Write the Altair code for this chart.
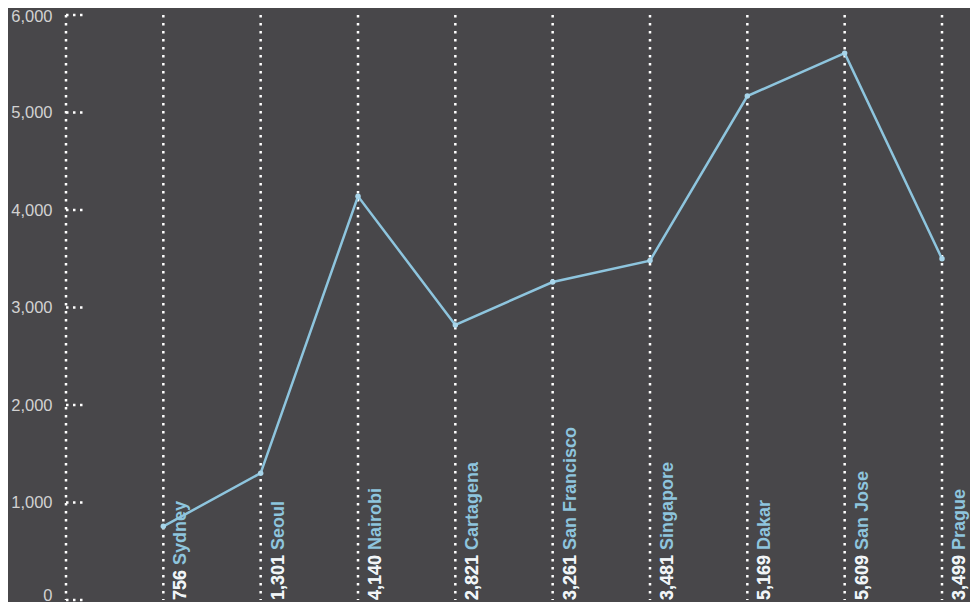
import altair as alt
import pandas as pd

cities = ["Sydney", "Seoul", "Nairobi", "Cartagena", "San Francisco",
          "Singapore", "Dakar", "San Jose", "Prague"]
values = [756, 1301, 4140, 2821, 3261, 3481, 5169, 5609, 3499]
y_ticks = [0, 1000, 2000, 3000, 4000, 5000, 6000]

BG = "#48474a"
BLUE = "#8ec5de"
FONT = "Liberation Sans"

df = pd.DataFrame({
    "idx": list(range(1, len(cities) + 1)),
    "city": cities,
    "value": values,
})
df["num"] = df["value"].map(lambda v: f"{v:,}")
df["full"] = df["num"] + " " + df["city"]
df["base"] = 0

rules_df = pd.DataFrame({"idx": list(range(0, len(cities) + 1))})
rules_df["top"] = 6000
rules_df["bot"] = 0
ticks_df = pd.DataFrame({"t": y_ticks})

xs = alt.Scale(domain=[0, len(cities)], nice=False, zero=False)
ys = alt.Scale(domain=[0, 6000], nice=False)

yaxis = alt.Axis(values=y_ticks, format=",.0f", labelFontSize=16.5, labelColor="#d2d2d2",
                 labelFont=FONT, domain=False, ticks=False, grid=False,
                 labelPadding=14, title=None,
                 labelOffset={"condition": [{"test": "datum.value == 0", "value": -5},
                                            {"test": "datum.value == 6000", "value": 1}],
                              "value": 0})

hticks = alt.Chart(ticks_df).mark_rule(
    color="white", strokeWidth=2.5, strokeDash=[2.5, 4.5]
).encode(
    x=alt.value(0),
    x2=alt.value(17),
    y=alt.Y("t:Q", scale=ys, axis=yaxis),
)

vrules = alt.Chart(rules_df).mark_rule(
    color="white", strokeWidth=2.5, strokeDash=[2.5, 5.5]
).encode(
    x=alt.X("idx:Q", scale=xs, axis=None),
    y=alt.Y("top:Q", scale=ys, axis=yaxis),
    y2="bot:Q",
)

line = alt.Chart(df).mark_line(color=BLUE, strokeWidth=2.5).encode(
    x=alt.X("idx:Q", scale=xs, axis=None),
    y=alt.Y("value:Q", scale=ys, axis=yaxis),
)

points = alt.Chart(df).mark_circle(color="#a8d5ea", size=30, opacity=1).encode(
    x=alt.X("idx:Q", scale=xs, axis=None),
    y=alt.Y("value:Q", scale=ys, axis=yaxis),
)

label_full = alt.Chart(df).mark_text(
    angle=270, align="left", baseline="top", dx=0, dy=9,
    font=FONT, fontSize=18, fontWeight="bold", color=BLUE
).encode(
    x=alt.X("idx:Q", scale=xs, axis=None),
    y=alt.Y("base:Q", scale=ys, axis=yaxis),
    text="full:N",
)

label_num = alt.Chart(df).mark_text(
    angle=270, align="left", baseline="top", dx=0, dy=9,
    font=FONT, fontSize=18, fontWeight="bold", color="#f4f4f4"
).encode(
    x=alt.X("idx:Q", scale=xs, axis=None),
    y=alt.Y("base:Q", scale=ys, axis=yaxis),
    text="num:N",
)

chart = alt.layer(hticks, vrules, line, points, label_full, label_num).properties(
    width=876,
    height=585,
    background=BG,
    padding={"left": 58, "top": 7, "right": 28, "bottom": 2},
    autosize=alt.AutoSizeParams(type="none"),
).configure_view(stroke=None)

chart.save("out.html", embed_options={"renderer": "svg", "actions": False})
